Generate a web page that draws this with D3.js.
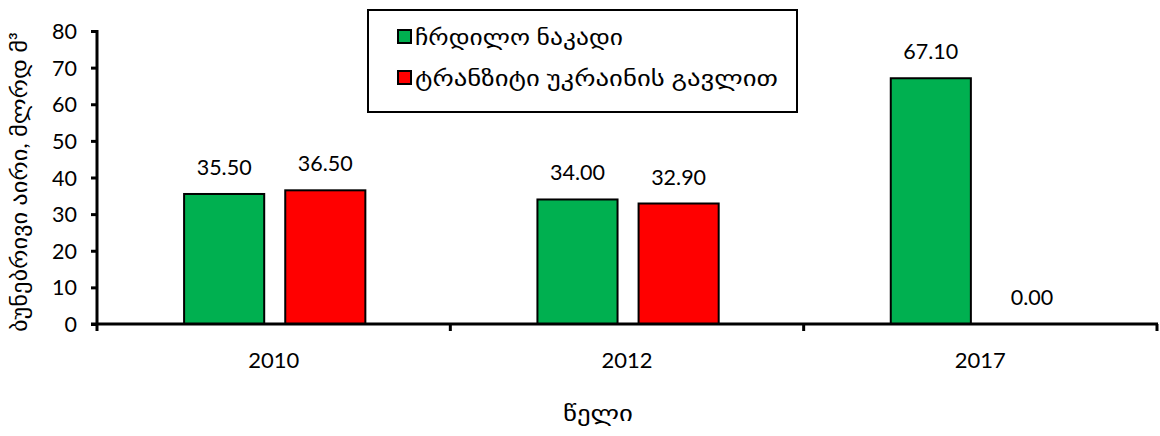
<!DOCTYPE html>
<html><head><meta charset="utf-8">
<script src="https://cdn.jsdelivr.net/npm/d3@7"></script>
<style>body{margin:0;background:#fff}svg{display:block}text{font-family:Lato,"DejaVu Sans",sans-serif;fill:#000}</style>
</head><body><svg id="c" width="1160" height="436"></svg>
<script>
const categories = ["2010","2012","2017"];
const seriesNames = ["ჩრდილო ნაკადი","ტრანზიტი უკრაინის გავლით"];
const northStream = [35.50, 34.00, 67.10];
const transitUkraine = [36.50, 32.90, 0.00];
const yTicks = [0,10,20,30,40,50,60,70,80];
const colors = ["#00b050","#ff0000"];
const yLabel = "ბუნებრივი აირი, მლრდ მ³";
const xLabel = "წელი";

const svg = d3.select("#c");
const L=97, R=1157, T=31, B=324;
const x = d3.scaleBand().domain(categories).range([L,R]).paddingInner(0).paddingOuter(0);
const y = d3.scaleLinear().domain([0,80]).range([B,T]);
const bw = x.bandwidth();
const sub = d3.scaleBand().domain([0,1]).range([bw*0.2465, bw*0.7595]).paddingInner(0.208).paddingOuter(0);
const series=[northStream,transitUkraine];

categories.forEach((c,i)=>{
  series.forEach((s,j)=>{
    const v=s[i];
    const bx=x(c)+sub(j);
    if(v>0) svg.append("rect").attr("x",bx).attr("y",y(v)).attr("width",sub.bandwidth()).attr("height",y(0)-y(v))
      .attr("fill",colors[j]).attr("stroke","#000").attr("stroke-width",2);
    svg.append("text").attr("x",bx+sub.bandwidth()/2).attr("y",y(v)-19).attr("text-anchor","middle")
      .attr("font-size",21.5).text(v.toFixed(2));
  });
});

// y axis
const ya=svg.append("g").attr("transform",`translate(${L},0)`).call(d3.axisLeft(y).tickValues(yTicks).tickSize(6).tickPadding(14));
ya.select(".domain").attr("stroke","#000").attr("stroke-width",3).attr("d",`M0,${T-1}V${B}`);
ya.selectAll(".tick line").attr("stroke-width",3);
ya.selectAll("text").attr("font-size",21.5).attr("font-family","Lato,sans-serif").attr("dy","0.35em");
// x axis
const xa=svg.append("g").attr("transform",`translate(0,${B})`);
xa.append("line").attr("x1",L-6).attr("x2",R+1).attr("stroke","#000").attr("stroke-width",3);
const bounds=categories.map(c=>x(c)).concat([R]);
xa.selectAll("line.tk").data(bounds).join("line").attr("x1",d=>d).attr("x2",d=>d).attr("y1",0).attr("y2",7).attr("stroke","#000").attr("stroke-width",3);
xa.selectAll("text").data(categories).join("text").attr("x",d=>x(d)+bw/2).attr("y",44).attr("text-anchor","middle").attr("font-size",22).text(d=>d);

svg.append("text").attr("transform","translate(27,182) rotate(-90)").attr("text-anchor","middle").attr("font-size",22)
  .attr("font-family","DejaVu Sans,sans-serif").attr("textLength",300).attr("lengthAdjust","spacingAndGlyphs").text(yLabel);
svg.append("text").attr("x",598).attr("y",421).attr("text-anchor","middle").attr("font-size",22)
  .attr("font-family","DejaVu Sans,sans-serif").attr("textLength",70).attr("lengthAdjust","spacingAndGlyphs").text(xLabel);

// legend
const lg=svg.append("g");
lg.append("rect").attr("x",368).attr("y",10).attr("width",429).attr("height",102).attr("fill","#fff").attr("stroke","#000").attr("stroke-width",2);
const legendW=[208,363];
seriesNames.forEach((n,j)=>{
  const yy=37+j*41;
  lg.append("rect").attr("x",398).attr("y",yy-7).attr("width",13).attr("height",13).attr("fill",colors[j]).attr("stroke","#000").attr("stroke-width",2);
  lg.append("text").attr("x",415).attr("y",yy+8).attr("font-size",22).attr("font-family","DejaVu Sans,sans-serif")
    .attr("textLength",legendW[j]).attr("lengthAdjust","spacingAndGlyphs").text(n);
});
</script></body></html>
